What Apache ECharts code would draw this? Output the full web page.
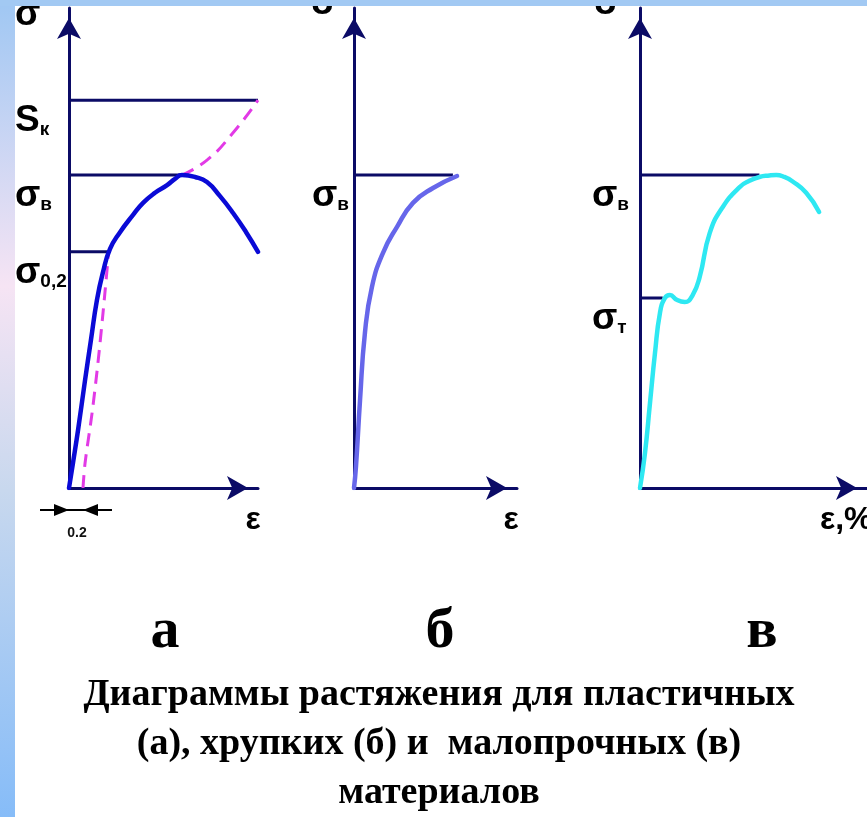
<!DOCTYPE html>
<html>
<head>
<meta charset="utf-8">
<script src="https://cdn.jsdelivr.net/npm/echarts@6/dist/echarts.min.js"></script>
<style>
    html, body { margin: 0; padding: 0; background: #fff; }
    #chart { width: 867px; height: 817px; }
</style>
</head>
<body>
<div id="chart"></div>
<script>
// (а) пластичные: strain / stress, arbitrary units (0..10, 0..100)
const epsA = [0, 0.21, 0.48, 0.85, 1.16, 1.48, 1.8, 2.17, 2.7, 3.39, 3.92, 4.55, 5.19, 5.61, 5.98, 6.67, 7.3, 7.99, 8.68, 9.37, 10];
const sigA = [0, 5.2, 12.1, 22.5, 30.8, 39.2, 45, 49.8, 53.3, 56.9, 59.4, 61.5, 63.1, 64.4, 65.2, 64.8, 63.75, 60.8, 57.3, 53.3, 49.2];
// 0.2 offset line and true-stress continuation (dashed)
const epsOffset = [0.74, 0.85, 1.22, 1.53, 1.8, 2.06, 2.1];
const sigOffset = [0, 5.2, 15.6, 26, 36.5, 47.5, 49.2];
const epsTrue = [5.98, 7.3, 8.68, 10];
const sigTrue = [65.2, 68.3, 74, 80.8];
const levelsA = [80.8, 65.2, 49.2];
const levelEndsA = [10, 5.98, 2.06];
const levelNamesA = ['Sк', 'σв', 'σ0,2'];

// (б) хрупкие
const epsB = [0, 0.12, 0.37, 0.67, 1.1, 1.78, 2.64, 3.62, 4.85, 6.32];
const sigB = [0, 4.4, 18.3, 32.3, 41.9, 49, 54.4, 59.4, 62.5, 65];
const levelsB = [65.2];
const levelEndsB = [6.07];
const levelNamesB = ['σв'];

// (в) малопрочные
const epsC = [0, 0.22, 0.44, 0.66, 0.88, 1.1, 1.32, 1.62, 1.97, 2.32, 2.63, 3.07, 3.64, 4.39, 4.82, 5.26, 5.7, 6.0, 6.36, 6.71, 7.32, 7.89];
const sigC = [0, 7.3, 17.7, 28.1, 36.5, 39.6, 40.2, 39.2, 38.75, 40.2, 44, 53.1, 58.5, 62.7, 64, 64.8, 65.1, 65.2, 64.8, 63.9, 61.5, 57.5];
const levelsC = [65.2, 39.6];
const levelEndsC = [5.26, 1.0];
const levelNamesC = ['σв', 'σт'];

const panelLetters = ['а', 'б', 'в'];
const caption = 'Диаграммы растяжения для пластичных\n(а), хрупких (б) и  малопрочных (в)\nматериалов';

const navy = '#0b0b66';
const sans = '"Liberation Sans", Arial, sans-serif';
const serif = '"Liberation Serif", "Times New Roman", serif';

const zip = (xs, ys) => xs.map((x, i) => [x, ys[i]]);

function xAxisFor(gridIndex) {
    return {
        type: 'value', gridIndex: gridIndex, min: 0, max: 10,
        axisLine: {
            show: true, onZero: false,
            symbol: ['none', 'arrow'], symbolSize: [18, 21], symbolOffset: [0, -10],
            lineStyle: { color: navy, width: 3 }
        },
        axisTick: { show: false }, axisLabel: { show: false }, splitLine: { show: false }
    };
}

function yAxisFor(gridIndex, levels, names, margin) {
    return {
        type: 'value', gridIndex: gridIndex, min: 0, max: 100,
        axisLine: {
            show: true, onZero: false,
            symbol: ['none', 'arrow'], symbolSize: [18, 21], symbolOffset: [0, -10],
            lineStyle: { color: navy, width: 3 }
        },
        axisTick: { show: false },
        splitLine: { show: false },
        axisLabel: {
            customValues: levels,
            margin: margin,
            align: 'left',
            verticalAlign: 'top',
            formatter: function (value) {
                let i = levels.indexOf(value);
                let name = i < 0 ? '' : names[i];
                return '{m|' + name.slice(0, 1) + '}{s|' + name.slice(1) + '}';
            },
            rich: {
                m: { fontFamily: sans, fontWeight: 'bold', fontSize: 37, color: '#000', verticalAlign: 'bottom', lineHeight: 39 },
                s: { fontFamily: sans, fontWeight: 'bold', fontSize: 19, color: '#000', verticalAlign: 'bottom', lineHeight: 39 }
            }
        }
    };
}

function levelSeries(gridIndex, levels, ends) {
    return levels.map((v, i) => ({
        type: 'line', xAxisIndex: gridIndex, yAxisIndex: gridIndex,
        data: [[0, v], [ends[i], v]],
        symbol: 'none', silent: true,
        lineStyle: { color: navy, width: 3 }
    }));
}

function curve(gridIndex, xs, ys, color, extra) {
    return Object.assign({
        type: 'line', xAxisIndex: gridIndex, yAxisIndex: gridIndex,
        data: zip(xs, ys), symbol: 'none', smooth: 0.5, silent: true, z: 3,
        lineStyle: { color: color, width: 4.5, cap: 'round', join: 'round' }
    }, extra || {});
}

const chart = echarts.init(document.getElementById('chart'), null, { renderer: 'canvas' });

const option = {
    backgroundColor: '#fff',
    animation: false,
    grid: [
        { left: 69, top: 8, width: 189, height: 480 },
        { left: 354, top: 8, width: 163, height: 480 },
        { left: 640, top: 8, width: 228, height: 480 }
    ],
    xAxis: [xAxisFor(0), xAxisFor(1), xAxisFor(2)],
    yAxis: [
        yAxisFor(0, levelsA, levelNamesA, 54),
        yAxisFor(1, levelsB, levelNamesB, 42),
        yAxisFor(2, levelsC, levelNamesC, 48)
    ],
    series: [].concat(
        levelSeries(0, levelsA, levelEndsA),
        levelSeries(1, levelsB, levelEndsB),
        levelSeries(2, levelsC, levelEndsC),
        [
            curve(0, epsOffset, sigOffset, '#e23ae6', { smooth: 0.3, lineStyle: { color: '#e23ae6', width: 3, type: [13, 8] } }),
            curve(0, epsTrue, sigTrue, '#e23ae6', { lineStyle: { color: '#e23ae6', width: 3, type: [13, 8] } }),
            curve(0, epsA, sigA, '#0a0ad6'),
            curve(1, epsB, sigB, '#6666ea'),
            curve(2, epsC, sigC, '#2ee8f2'),
            {
                // the 0.2 offset dimension under the origin
                type: 'custom', xAxisIndex: 0, yAxisIndex: 0, silent: true,
                data: [[0, epsOffset[0]]],
                renderItem: function (params, api) {
                    let p0 = api.coord([api.value(0), 0]);
                    let p1 = api.coord([api.value(1), 0]);
                    let y = p0[1] + 22;
                    let x0 = p0[0], x1 = p1[0];
                    let st = { fill: '#000' };
                    return {
                        type: 'group',
                        children: [
                            { type: 'line', shape: { x1: x0 - 29, y1: y, x2: x1 + 29, y2: y }, style: { stroke: '#000', lineWidth: 2 } },
                            { type: 'polygon', shape: { points: [[x0, y], [x0 - 15, y - 6], [x0 - 15, y + 6]] }, style: st },
                            { type: 'polygon', shape: { points: [[x1, y], [x1 + 15, y - 6], [x1 + 15, y + 6]] }, style: st },
                            { type: 'text', style: { x: (x0 + x1) / 2 + 1, y: y + 23, text: '0.2', fill: '#111', font: 'bold 14px ' + sans, align: 'center', verticalAlign: 'middle' } }
                        ]
                    };
                }
            }
        ]
    ),
    graphic: [
        // slide decoration: gradient strip on the left and top
        {
            type: 'rect', left: 0, top: 0, z: 100, silent: true,
            shape: { width: 15, height: 817 },
            style: {
                fill: new echarts.graphic.LinearGradient(0, 0, 0, 1, [
                    { offset: 0, color: '#9fc7f3' },
                    { offset: 0.35, color: '#f6e4f4' },
                    { offset: 0.6, color: '#c8d8ee' },
                    { offset: 1, color: '#86bcf8' }
                ])
            }
        },
        { type: 'rect', left: 0, top: 0, z: 100, silent: true, shape: { width: 867, height: 6 }, style: { fill: '#a2c9f3' } },
        // axis names
        { type: 'text', x: 15, y: 15, style: { text: 'σ', font: 'bold 37px ' + sans, fill: '#000', align: 'left', verticalAlign: 'middle' } },
        { type: 'text', x: 311, y: 4, style: { text: 'σ', font: 'bold 37px ' + sans, fill: '#000', align: 'left', verticalAlign: 'middle' } },
        { type: 'text', x: 594, y: 4, style: { text: 'σ', font: 'bold 37px ' + sans, fill: '#000', align: 'left', verticalAlign: 'middle' } },
        { type: 'text', x: 253, y: 520, style: { text: 'ε', font: 'bold 32px ' + sans, fill: '#000', align: 'center', verticalAlign: 'middle' } },
        { type: 'text', x: 511, y: 520, style: { text: 'ε', font: 'bold 32px ' + sans, fill: '#000', align: 'center', verticalAlign: 'middle' } },
        { type: 'text', x: 820, y: 520, style: { text: 'ε,%', font: 'bold 32px ' + sans, fill: '#000', align: 'left', verticalAlign: 'middle' } },
        // panel letters
        { type: 'text', x: 165, y: 632, style: { text: panelLetters[0], font: 'bold 58px ' + serif, fill: '#000', align: 'center', verticalAlign: 'middle' } },
        { type: 'text', x: 440, y: 632, style: { text: panelLetters[1], font: 'bold 58px ' + serif, fill: '#000', align: 'center', verticalAlign: 'middle' } },
        { type: 'text', x: 762, y: 632, style: { text: panelLetters[2], font: 'bold 58px ' + serif, fill: '#000', align: 'center', verticalAlign: 'middle' } },
        // caption
        { type: 'text', x: 439, y: 671, style: { text: caption, font: 'bold 38px ' + serif, lineHeight: 49, fill: '#000', align: 'center', verticalAlign: 'top' } }
    ]
};

chart.setOption(option);
</script>
</body>
</html>
